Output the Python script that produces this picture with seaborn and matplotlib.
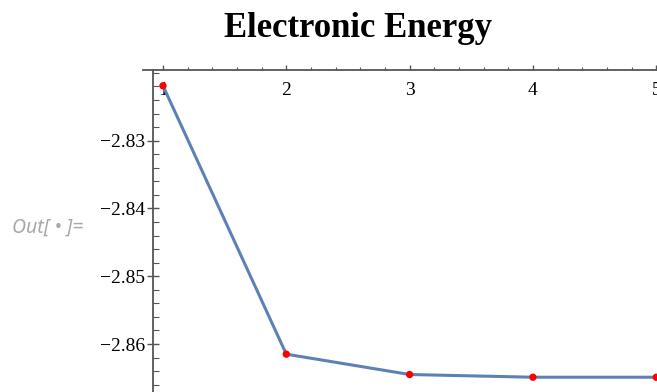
import matplotlib
matplotlib.use("Agg")
import matplotlib.pyplot as plt
from matplotlib.ticker import MultipleLocator, FixedLocator
import seaborn as sns
import pandas as pd

# data
steps = [1, 2, 3, 4, 5]
energy = [-2.8219, -2.8615, -2.8645, -2.8649, -2.8649]
y_major = [-2.83, -2.84, -2.85, -2.86]
x_major = [1, 2, 3, 4, 5]

df = pd.DataFrame({"step": steps, "energy": energy})

sns.set_style("white")
plt.rcParams["font.family"] = ["Liberation Serif", "DejaVu Serif"]
plt.rcParams["text.color"] = "black"
plt.rcParams["xtick.color"] = "black"
plt.rcParams["ytick.color"] = "black"

fig = plt.figure(figsize=(6.57, 3.92), dpi=100)
ax = fig.add_axes([143 / 657, 0, 514 / 657, (392 - 69.5) / 392])

axis_col = "#555555"

sns.lineplot(data=df, x="step", y="energy", ax=ax, color="#5E81B5", linewidth=2.2, zorder=2)
sns.scatterplot(data=df, x="step", y="energy", ax=ax, color="#FF0000", s=28,
                edgecolor="none", zorder=3, clip_on=False)

ax.set_xlim(0.838, 5.006)
ax.set_ylim(-2.86708, -2.8195)

# Mathematica-like axes: x axis on top, y axis crossing near x=0.92
for s in ["bottom", "right"]:
    ax.spines[s].set_visible(False)
ax.spines["top"].set_color(axis_col)
ax.spines["top"].set_linewidth(1.3)
ax.spines["left"].set_color(axis_col)
ax.spines["left"].set_linewidth(1.3)
ax.spines["left"].set_position(("data", 0.919))

ax.xaxis.set_ticks_position("top")
ax.xaxis.set_major_locator(FixedLocator(x_major))
ax.xaxis.set_minor_locator(MultipleLocator(0.2))
ax.tick_params(axis="x", which="major", direction="out", length=3.6, width=1,
               color=axis_col, labelcolor="black", labelsize=14, pad=-25,
               top=True, labeltop=True, bottom=False, labelbottom=False)
ax.tick_params(axis="x", which="minor", direction="out", length=2.2, width=0.8,
               color=axis_col, top=True, bottom=False)

ax.yaxis.set_major_locator(FixedLocator(y_major))
ax.yaxis.set_minor_locator(MultipleLocator(0.002))
ax.tick_params(axis="y", which="major", direction="inout", length=8, width=1,
               color=axis_col, labelcolor="black", labelsize=14, pad=2, left=True)
ax.tick_params(axis="y", which="minor", direction="in", length=4.3, width=0.8,
               color=axis_col, left=True)
ax.yaxis.set_major_formatter(plt.FuncFormatter(lambda v, p: f"\u2212{abs(v):.2f}"))

ax.set_xlabel("")
ax.set_ylabel("")
ax.set_facecolor("white")

fig.text(358 / 657, 1 - 37 / 392, "Electronic Energy", ha="center", va="baseline",
         fontsize=25, fontweight="bold", color="black")
fig.text(12 / 657, 1 - 228 / 392, "Out[ \u2022 ]=", ha="left", va="center",
         fontsize=14, style="italic", color="#a8a8a8", family=["Noto Sans", "DejaVu Sans"])

fig.savefig("out.png", dpi=100)
